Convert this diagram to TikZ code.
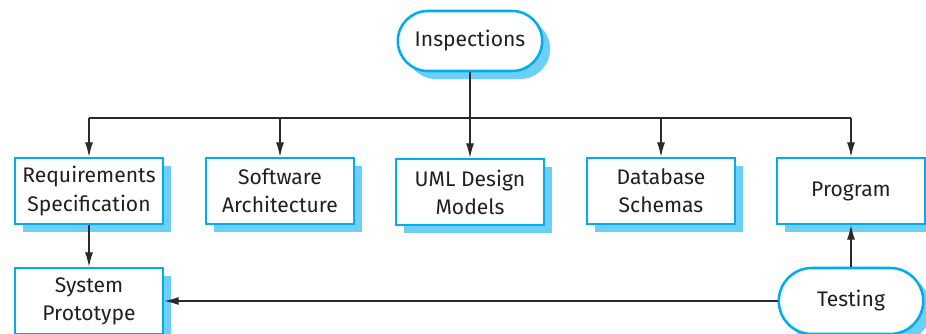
\documentclass[tikz,border=0pt]{standalone}
\usepackage{fontspec}
\setmainfont{Fira Sans}
\usetikzlibrary{positioning, arrows.meta, shapes.misc, shadows}
\definecolor{boxstroke}{HTML}{00AEEF}
\definecolor{boxshadow}{HTML}{6DCFF6}
\definecolor{linegray}{HTML}{2A2A2A}
\definecolor{textgray}{HTML}{231F20}

\begin{document}
\begin{tikzpicture}[
  x=0.025cm, y=-0.025cm,
  font=\fontsize{15}{20}\selectfont, text=textgray,
  doc/.style={rectangle, draw=boxstroke, line width=1.8pt, fill=white,
              minimum width=3.7cm, minimum height=1.65cm,
              align=center, inner sep=2pt,
              drop shadow={shadow xshift=0.2cm, shadow yshift=-0.2cm,
                           fill=boxshadow, opacity=1}},
  activity/.style={rounded rectangle, draw=boxstroke, line width=1.8pt,
              fill=white, minimum width=3.75cm, minimum height=1.5cm,
              align=center, inner sep=2pt,
              drop shadow={shadow xshift=0.2cm, shadow yshift=-0.2cm,
                           fill=boxshadow, opacity=1}},
  link/.style={draw=linegray, line width=0.8pt},
  arrow/.style={link, -{Latex[length=3.6mm, width=2mm]}}
]
\useasboundingbox (0,0) rectangle (926,334);
\clip (0,0) rectangle (926,334);

% Inspection activity at the top
\node[activity] (insp) at (470,41) {Inspections};

% Artefacts that can be inspected
\node[doc] (req)  at (89,191)  {Requirements\\Specification};
\node[doc] (arch) at (280,191) {Software\\Architecture};
\node[doc] (uml)  at (470,192) {UML Design\\Models};
\node[doc] (db)   at (661,191) {Database\\Schemas};
\node[doc] (prog) at (851,191) {Program};

% Bottom row
\node[doc]      (proto) at (89,301)  {System\\Prototype};
\node[activity, minimum height=1.65cm] (test) at (851,301) {Testing};

% Distribution line
\coordinate (split) at (470,118);
\draw[link] (insp.south) -- (split);
\draw[link] (split -| req) -- (split -| prog);
\foreach \n in {req, arch, uml, db, prog}
  \draw[arrow] (split -| \n) -- (\n);

\draw[arrow] (req)  -- (proto);
\draw[arrow] (test.north) -- (prog.south);
\draw[arrow] (test.west) -- (proto);

\end{tikzpicture}
\end{document}
